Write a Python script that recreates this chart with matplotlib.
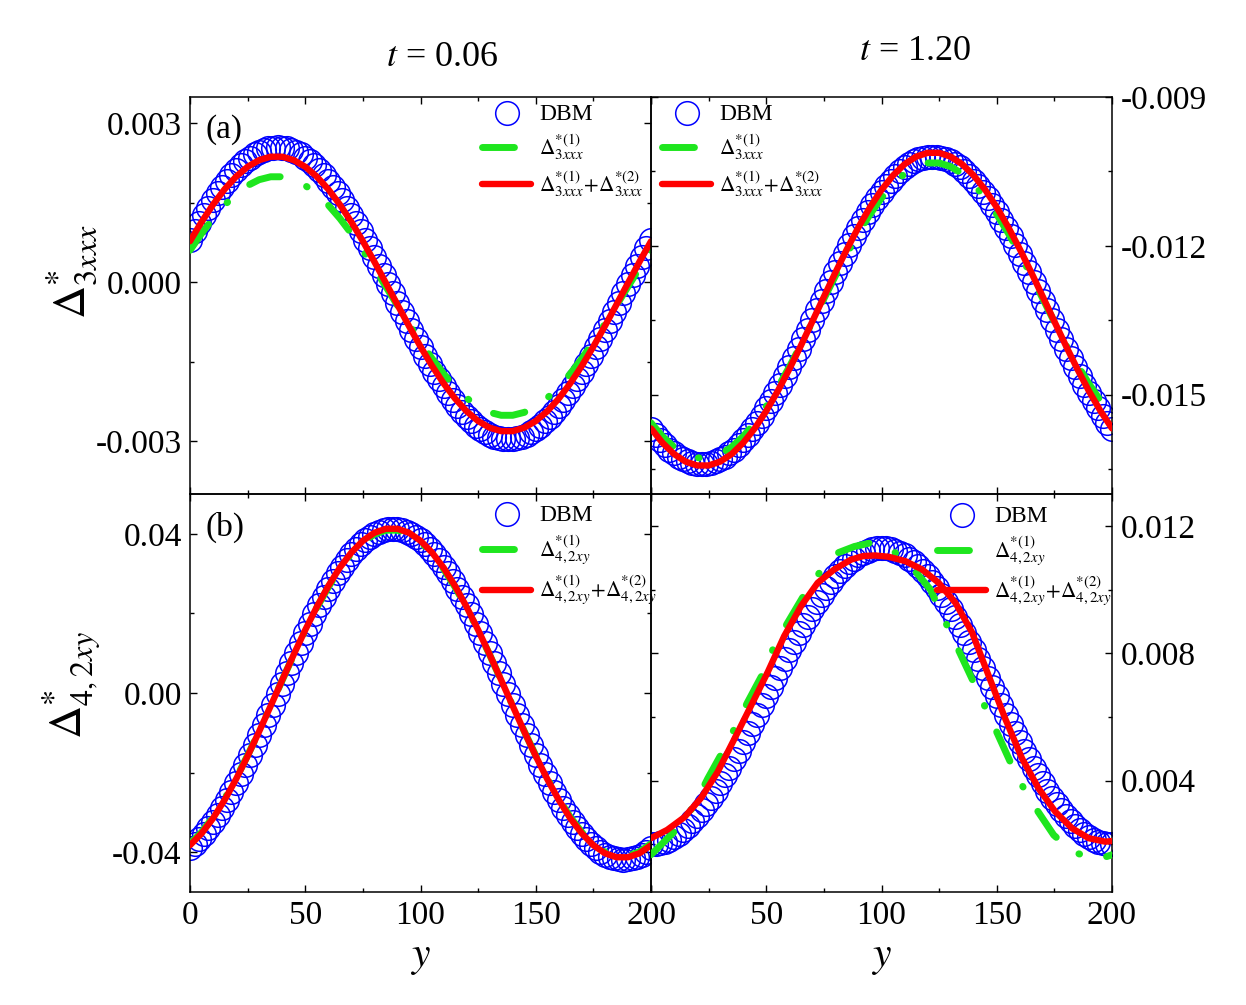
import numpy as np
import matplotlib
matplotlib.use('Agg')
import matplotlib.pyplot as plt
from matplotlib.ticker import MultipleLocator, FormatStrFormatter, FuncFormatter

plt.rcParams.update({
    'font.family': ['Liberation Serif', 'DejaVu Serif'],
    'mathtext.fontset': 'stix',
    'axes.unicode_minus': False,
    'lines.scale_dashes': False,
})

# ---------------- data ----------------
x_dbm = np.arange(0, 201, 2)
x_line = np.arange(0, 201, 5)

# (a) t = 0.06, Delta*_3xxx  (units 1e-3)
tl_dbm = np.array([
    0.806, 0.965, 1.120, 1.269, 1.412, 1.549, 1.679, 1.802, 1.917, 2.023,
    2.120, 2.209, 2.287, 2.356, 2.415, 2.463, 2.501, 2.528, 2.544, 2.550,
    2.544, 2.528, 2.501, 2.463, 2.415, 2.356, 2.287, 2.209, 2.120, 2.023,
    1.917, 1.802, 1.679, 1.549, 1.412, 1.269, 1.120, 0.965, 0.806,
    0.643, 0.476, 0.307, 0.136, -0.037, -0.210, -0.383, -0.556, -0.727, -0.896,
    -1.063, -1.226, -1.385, -1.540, -1.689, -1.832, -1.969, -2.099, -2.222, -2.337,
    -2.443, -2.540, -2.629, -2.707, -2.776, -2.835, -2.883, -2.921, -2.948, -2.964, -2.970,
    -2.964, -2.948, -2.921, -2.883, -2.835, -2.776, -2.707, -2.629, -2.540, -2.443,
    -2.337, -2.222, -2.099, -1.969, -1.832, -1.689, -1.540, -1.385, -1.226, -1.063,
    -0.896, -0.727, -0.556, -0.383, -0.210, -0.037, 0.136, 0.307, 0.476, 0.643, 0.806]) * 1e-3
tl_first = np.array([
    0.605, 0.921, 1.208, 1.458, 1.667, 1.828, 1.938, 1.993, 1.993, 1.938,
    1.828, 1.667, 1.458, 1.208, 0.921, 0.605, 0.267, -0.083, -0.437, -0.787,
    -1.125, -1.441, -1.728, -1.978, -2.187, -2.348, -2.458, -2.513, -2.513, -2.458,
    -2.348, -2.187, -1.978, -1.728, -1.441, -1.125, -0.787, -0.437, -0.083, 0.267, 0.605]) * 1e-3
tl_second = np.array([
    0.775, 1.139, 1.468, 1.757, 1.997, 2.182, 2.308, 2.372, 2.372, 2.308,
    2.182, 1.997, 1.757, 1.468, 1.139, 0.775, 0.387, -0.016, -0.424, -0.827,
    -1.215, -1.579, -1.908, -2.197, -2.437, -2.622, -2.748, -2.812, -2.812, -2.748,
    -2.622, -2.437, -2.197, -1.908, -1.579, -1.215, -0.827, -0.424, -0.016, 0.387, 0.775]) * 1e-3

# t = 1.20, Delta*_3xxx  (units 1e-3)
tr_dbm = np.array([
    -15.689, -15.808, -15.917, -16.017, -16.105, -16.182, -16.248, -16.303, -16.345, -16.376,
    -16.394, -16.400, -16.394, -16.376, -16.345, -16.303, -16.248, -16.182, -16.105, -16.017,
    -15.917, -15.808, -15.689,
    -15.560, -15.422, -15.276, -15.122, -14.961, -14.794, -14.620, -14.441, -14.258, -14.071,
    -13.881, -13.688, -13.495, -13.300, -13.105, -12.912, -12.719, -12.529, -12.342, -12.159,
    -11.980, -11.806, -11.639, -11.478, -11.324, -11.178, -11.040, -10.911, -10.792, -10.683,
    -10.583, -10.495, -10.418, -10.352, -10.297, -10.255, -10.224, -10.206, -10.200,
    -10.206, -10.224, -10.255, -10.297, -10.352, -10.418, -10.495, -10.583, -10.683, -10.792,
    -10.911, -11.040, -11.178, -11.324, -11.478, -11.639, -11.806, -11.980, -12.159, -12.342,
    -12.529, -12.719, -12.912, -13.105, -13.300, -13.495, -13.688, -13.881, -14.071, -14.258,
    -14.441, -14.620, -14.794, -14.961, -15.122, -15.276, -15.422, -15.560, -15.689]) * 1e-3
tr_first = np.array([
    -15.566, -15.841, -16.053, -16.198, -16.271, -16.271, -16.198, -16.053, -15.841, -15.566,
    -15.235, -14.857, -14.440, -13.996, -13.534, -13.066, -12.604, -12.160, -11.743, -11.365,
    -11.034, -10.759, -10.547, -10.402, -10.329, -10.329, -10.402, -10.547, -10.759, -11.034,
    -11.365, -11.743, -12.160, -12.604, -13.066, -13.534, -13.996, -14.400, -14.780, -15.120, -15.450]) * 1e-3
tr_second = np.array([
    -15.678, -15.969, -16.195, -16.348, -16.425, -16.425, -16.348, -16.195, -15.969, -15.678,
    -15.327, -14.926, -14.484, -14.013, -13.523, -13.027, -12.537, -12.066, -11.624, -11.223,
    -10.872, -10.581, -10.355, -10.202, -10.125, -10.125, -10.202, -10.355, -10.581, -10.872,
    -11.223, -11.624, -12.066, -12.537, -13.027, -13.523, -14.013, -14.484, -14.926, -15.327, -15.678]) * 1e-3

# (b) t = 0.06, Delta*_4,2xy  (units 1e-2)
bl_dbm = np.array([
    -3.898, -3.794, -3.675, -3.542, -3.395, -3.235, -3.063, -2.878, -2.682, -2.475,
    -2.259, -2.034, -1.801, -1.561, -1.315, -1.065, -0.810, -0.551, -0.291,
    -0.030, 0.231, 0.491, 0.750, 1.005, 1.255, 1.501, 1.741, 1.974, 2.199,
    2.415, 2.622, 2.818, 3.003, 3.175, 3.335, 3.482, 3.615, 3.734, 3.838,
    3.927, 3.999, 4.056, 4.097, 4.122, 4.130,
    4.122, 4.097, 4.056, 3.999, 3.927, 3.838, 3.734, 3.615, 3.482, 3.335,
    3.175, 3.003, 2.818, 2.622, 2.415, 2.199, 1.974, 1.741, 1.501, 1.255,
    1.005, 0.750, 0.491, 0.231, -0.030,
    -0.291, -0.551, -0.810, -1.065, -1.315, -1.561, -1.801, -2.034, -2.259, -2.475,
    -2.682, -2.878, -3.063, -3.235, -3.395, -3.542, -3.675, -3.794, -3.898, -3.987,
    -4.059, -4.116, -4.157, -4.182, -4.190, -4.182, -4.157, -4.116, -4.059, -3.987, -3.898]) * 1e-2
bl_first = np.array([
    -3.79, -3.50, -3.12, -2.66, -2.14, -1.57, -0.96, -0.32, 0.32, 0.96,
    1.57, 2.14, 2.66, 3.12, 3.50, 3.79, 3.99, 4.09, 4.09, 3.99,
    3.79, 3.50, 3.12, 2.66, 2.14, 1.57, 0.96, 0.32, -0.32, -0.96,
    -1.57, -2.14, -2.66, -3.12, -3.50, -3.79, -3.99, -4.09, -4.09, -3.99, -3.79]) * 1e-2
bl_second = np.array([
    -3.825, -3.530, -3.148, -2.688, -2.163, -1.584, -0.966, -0.325, 0.325, 0.966,
    1.584, 2.163, 2.688, 3.148, 3.530, 3.825, 4.026, 4.127, 4.127, 4.026,
    3.825, 3.530, 3.148, 2.688, 2.163, 1.584, 0.966, 0.325, -0.325, -0.966,
    -1.584, -2.163, -2.688, -3.148, -3.530, -3.825, -4.026, -4.127, -4.127, -4.026, -3.825]) * 1e-2

# t = 1.20, Delta*_4,2xy  (units 1e-3)
br_dbm_half = [
    2.000, 2.009, 2.037, 2.082, 2.146, 2.227, 2.326, 2.443, 2.575, 2.724,
    2.888, 3.067, 3.260, 3.467, 3.686, 3.917, 4.159, 4.410, 4.670, 4.938,
    5.213, 5.494, 5.779, 6.067, 6.358, 6.650, 6.942, 7.233, 7.521, 7.806,
    8.087, 8.362, 8.630, 8.890, 9.141, 9.383, 9.614, 9.833, 10.040, 10.233,
    10.412, 10.576, 10.725, 10.857, 10.974, 11.073, 11.154, 11.218, 11.263, 11.291]
br_dbm = np.array(br_dbm_half + [11.300] + br_dbm_half[::-1]) * 1e-3
br_first_x = np.array([0, 12.3, 18.8, 24.6, 31.8, 36.9, 41.9, 49.2, 53.5, 59.3, 66.5, 73.0,
                       81.0, 88.2, 96.2, 105.3, 114.0, 121.2, 129.2, 139.3, 144.3, 148.7,
                       155.9, 161.0, 166.0, 174.7, 182.7, 193.5, 200])
br_first = np.array([1.67, 2.55, 3.23, 4.06, 5.00, 5.73, 6.46, 7.45, 8.23, 8.96, 9.84, 10.52,
                     11.15, 11.35, 11.48, 11.20, 10.63, 10.00, 8.75, 7.19, 6.41, 5.73,
                     4.58, 3.85, 3.23, 2.29, 1.77, 1.51, 1.67]) * 1e-3
br_second_x = np.array([0, 7, 14.5, 21.7, 28.9, 36.2, 43.4, 50.6, 57.8, 65.1, 72.3, 79.5,
                        86.8, 92.0, 97.0, 103.0, 110.4, 117.6, 124.8, 132.1, 139.3, 146.5, 153.7,
                        161.0, 168.2, 175.4, 182.7, 189.9, 197.1, 200])
br_second = np.array([2.19, 2.45, 2.85, 3.45, 4.27, 5.31, 6.35, 7.40, 8.54, 9.48, 10.21, 10.63,
                      10.94, 11.05, 11.07, 11.03, 10.89, 10.63, 10.21, 9.58, 8.65, 7.29, 5.94,
                      4.69, 3.75, 3.02, 2.50, 2.19, 2.08, 2.10]) * 1e-3

lab3 = ['DBM', r'$\Delta^{*(1)}_{3xxx}$', r'$\Delta^{*(1)}_{3xxx}\!+\!\Delta^{*(2)}_{3xxx}$']
lab4 = ['DBM', r'$\Delta^{*(1)}_{4,2xy}$', r'$\Delta^{*(1)}_{4,2xy}\!+\!\Delta^{*(2)}_{4,2xy}$']

BLUE = '#0000ff'
GREEN = '#1ee61e'
RED = '#ff0000'

# ---------------- figure ----------------
fig = plt.figure(figsize=(12.46, 10.05), dpi=100, facecolor='white')
FW, FH = 1246.0, 1005.0
W = 461 / FW
axTL = fig.add_axes([190 / FW, 1 - 494 / FH, W, 397 / FH])
axTR = fig.add_axes([651 / FW, 1 - 494 / FH, W, 397 / FH])
axBL = fig.add_axes([190 / FW, 1 - 892 / FH, W, 398 / FH])
axBR = fig.add_axes([651 / FW, 1 - 892 / FH, W, 398 / FH])

panels = [
    (axTL, tl_dbm, x_line, tl_first, x_line, tl_second, lab3, (-0.004, 0.0035), 0.003, 0.0015, '%.3f', (0.634, 0.982)),
    (axTR, tr_dbm, x_line, tr_first, x_line, tr_second, lab3, (-0.017, -0.009), 0.003, 0.0015, '%.3f', (0.024, 0.982)),
    (axBL, bl_dbm, x_line, bl_first, x_line, bl_second, lab4, (-0.05, 0.05), 0.04, 0.02, '%.2f', (0.634, 0.972)),
    (axBR, br_dbm, br_first_x, br_first, br_second_x, br_second, lab4, (0.0005, 0.013), 0.004, 0.002, '%.3f', (0.621, 0.970)),
]

for ax, dbm, xg, g, xr, r, labs, ylim, major, minor, fmt, lpos in panels:
    ax.set_facecolor('none')
    ax.plot(x_dbm, dbm, 'o', ms=17, mfc='none', mec=BLUE, mew=1.1, label=labs[0], zorder=2)
    ax.plot(xg, g, color=GREEN, lw=5.0, ls=(0, (23, 20.5, 0.5, 20.5)),
            dash_capstyle='round', label=labs[1], zorder=3)
    ax.plot(xr, r, color=RED, lw=4.6, solid_capstyle='round', label=labs[2], zorder=4)
    ax.set_xlim(0, 200)
    ax.set_ylim(*ylim)
    ax.xaxis.set_major_locator(MultipleLocator(50))
    ax.xaxis.set_minor_locator(MultipleLocator(25))
    ax.yaxis.set_major_locator(MultipleLocator(major))
    ax.yaxis.set_minor_locator(MultipleLocator(minor))
    ax.yaxis.set_major_formatter(FormatStrFormatter(fmt))
    ax.tick_params(which='both', direction='in', top=True, bottom=True, left=True, right=True,
                   labelsize=24, width=1.0)
    ax.tick_params(which='major', length=5, pad=6)
    ax.tick_params(which='minor', length=3)
    for s in ax.spines.values():
        s.set_linewidth(1.1)
    leg = ax.legend(loc='upper left', bbox_to_anchor=lpos, frameon=False, fontsize=15.3,
                    handlelength=2.3, handletextpad=0.38, borderpad=0, borderaxespad=0,
                    labelspacing=0.33, numpoints=1)
    leg.get_texts()[0].set_fontsize(17)
    leg.set_zorder(10)

for ax in (axTL, axTR):
    ax.tick_params(labelbottom=False)
for ax in (axTR, axBR):
    ax.tick_params(labelleft=False, labelright=True)

axBL.xaxis.set_major_formatter(FuncFormatter(lambda v, p: '%d' % round(v)))
axBR.xaxis.set_major_formatter(FuncFormatter(lambda v, p: '' if abs(v) < 1e-9 else '%d' % round(v)))

axTL.text(0.033, 0.917, '(a)', transform=axTL.transAxes, fontsize=24, va='center', ha='left')
axBL.text(0.033, 0.917, '(b)', transform=axBL.transAxes, fontsize=24, va='center', ha='left')

fig.text(442 / FW, 1 - 57 / FH, r'$t$ = 0.06', fontsize=26, ha='center', va='center')
fig.text(915 / FW, 1 - 52 / FH, r'$t$ = 1.20', fontsize=26, ha='center', va='center')
fig.text(420 / FW, 1 - 958 / FH, r'$y$', fontsize=30, ha='center', va='center')
fig.text(881 / FW, 1 - 958 / FH, r'$y$', fontsize=30, ha='center', va='center')
fig.text(72 / FW, 1 - 272 / FH, r'$\Delta^{*}_{3xxx}$', fontsize=33, rotation=90, ha='center', va='center')
fig.text(72 / FW, 1 - 685 / FH, r'$\Delta^{*}_{4,2xy}$', fontsize=33, rotation=90, ha='center', va='center')

fig.savefig('out.png', dpi=100, facecolor='white')
